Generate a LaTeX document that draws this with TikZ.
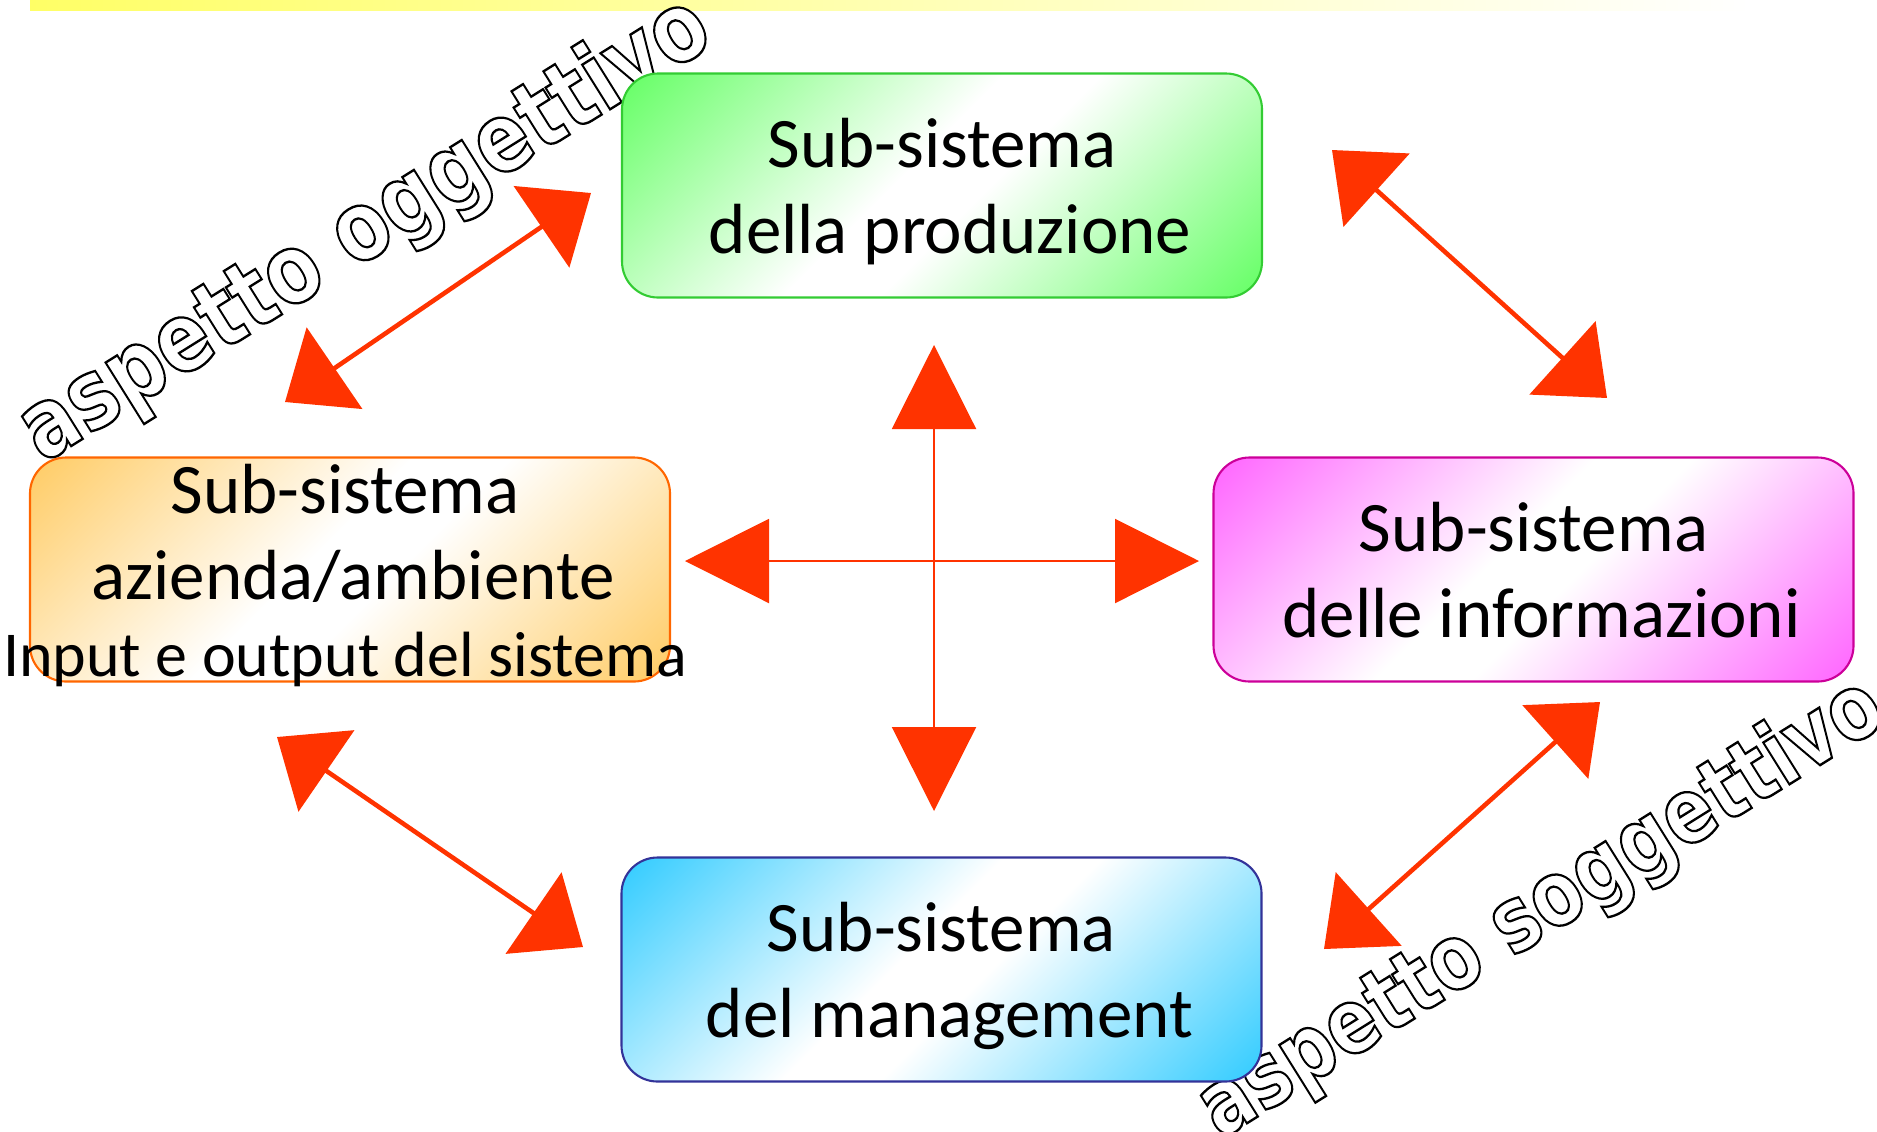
\documentclass[tikz,border=0pt]{standalone}
\usepackage{fontspec}
\setmainfont{Carlito}
\newfontfamily\aspfont{DejaVu Sans}
\usepackage{graphicx}
\usepackage{tikz}
\usetikzlibrary{arrows.meta}

\definecolor{barfill}{HTML}{FFFF66}
\definecolor{prodfill}{HTML}{66FF66}
\definecolor{prodline}{HTML}{33CC33}
\definecolor{ambfill}{HTML}{FFCC66}
\definecolor{ambline}{HTML}{FF6600}
\definecolor{infofill}{HTML}{FF66FF}
\definecolor{infoline}{HTML}{CC0099}
\definecolor{manfill}{HTML}{33CCFF}
\definecolor{manline}{HTML}{333399}
\definecolor{arrowred}{HTML}{FF3300}
\colorlet{boxcol}{white}

\newcommand{\boxfont}{\fontsize{20.2}{24.5}\selectfont}
% testo bianco con contorno nero
\newcommand{\outl}[1]{\special{pdf:literal direct 1 g 0 G 2 Tr 0.55 w}#1\special{pdf:literal direct 0 Tr 0 g 0 G}}

\pgfdeclareverticalshading[boxcol]{boxshade}{100bp}{color(0bp)=(boxcol); color(15bp)=(boxcol); color(46bp)=(white); color(54bp)=(white); color(85bp)=(boxcol); color(100bp)=(boxcol)}

\tikzset{
	subbox/.style = {rounded corners=0.36cm, minimum width=6.4cm, minimum height=2.24cm,
		inner sep=0pt, align=center, line width=0.6pt, font=\boxfont, text depth=0pt},
	shadebox/.style 2 args = {draw=#1, /utils/exec={\colorlet{boxcol}{#2}},
		shade, shading=boxshade, shading angle=45},
	boxtext/.style = {inner sep=0pt, align=center, font=\boxfont},
	outlined/.style = {inner sep=0pt, font=\aspfont\bfseries, rotate=32},
	diagarrow/.style = {arrowred, line width=1.3pt,
		{Triangle[length=0.6cm, width=0.98cm]}-{Triangle[length=0.6cm, width=0.98cm]}},
	crossarrow/.style = {arrowred, line width=0.6pt, -{Triangle[length=0.84cm, width=0.84cm]}}
}

\begin{document}
\begin{tikzpicture}
	\useasboundingbox (0,0) rectangle (18.77,-11.31);
	\fill[left color=barfill, right color=white] (0.30,0) rectangle (17.5,-0.10);

	% scritte in diagonale
	\node[outlined] (ogg) at (3.66,-2.31) {\fontsize{22.4}{26}\selectfont\scalebox{1}[1.22]{\outl{aspetto oggettivo}}};
	\node[outlined] (sogg) at (15.42,-9.10) {\fontsize{21}{25}\selectfont\scalebox{1}[1.22]{\outl{aspetto soggettivo}}};

	% i quattro sotto-sistemi
	\node[subbox, shadebox={prodline}{prodfill}] (prod) at (9.42,-1.855) {Sub-sistema\\\ della produzione};
	\node[subbox, shadebox={ambline}{ambfill}] (amb) at (3.50,-5.695) {};
	\node[boxtext] (ambtxt) at (3.45,-5.755) {Sub-sistema\\\ azienda/ambiente\\[-0.09cm]{\fontsize{18.2}{22}\selectfont Input e output del sistema}};
	\node[subbox, shadebox={infoline}{infofill}] (info) at (15.335,-5.695) {Sub-sistema\\\ delle informazioni};
	\node[subbox, shadebox={manline}{manfill}] (man) at (9.415,-9.695) {Sub-sistema\\\ del management};

	% croce centrale
	\coordinate (ctr) at (9.34,-5.61);
	\coordinate (cup) at (9.34,-3.45);
	\coordinate (cdown) at (9.34,-8.11);
	\coordinate (cleft) at (6.85,-5.61);
	\coordinate (cright) at (11.99,-5.61);
	\draw[crossarrow] (ctr) -- (cup);
	\draw[crossarrow] (ctr) -- (cdown);
	\draw[crossarrow] (ctr) -- (cleft);
	\draw[crossarrow] (ctr) -- (cright);

	% frecce diagonali
	\coordinate (ap1) at (2.85,-4.02);
	\coordinate (ap2) at (5.91,-1.93);
	\coordinate (pi1) at (13.32,-1.50);
	\coordinate (pi2) at (16.07,-3.98);
	\coordinate (am1) at (2.77,-7.37);
	\coordinate (am2) at (5.83,-9.47);
	\coordinate (mi1) at (13.24,-9.49);
	\coordinate (mi2) at (16.00,-7.02);
	\draw[diagarrow] (ap1) -- (ap2);
	\draw[diagarrow] (pi1) -- (pi2);
	\draw[diagarrow] (am1) -- (am2);
	\draw[diagarrow] (mi1) -- (mi2);

\end{tikzpicture}
\end{document}
